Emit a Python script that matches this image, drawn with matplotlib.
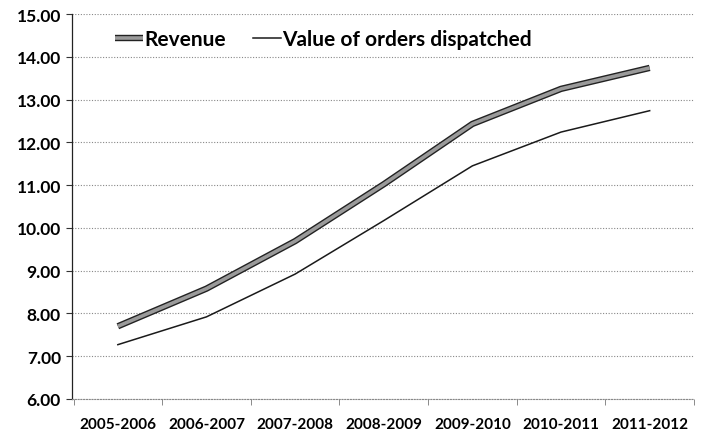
import matplotlib
matplotlib.use("Agg")
import matplotlib.pyplot as plt
import matplotlib.patheffects as pe
import numpy as np

categories = ["2005-2006", "2006-2007", "2007-2008", "2008-2009", "2009-2010", "2010-2011", "2011-2012"]
revenue = [7.70, 8.58, 9.69, 11.02, 12.43, 13.25, 13.74]
orders = [7.27, 7.92, 8.92, 10.17, 11.45, 12.24, 12.74]
yticks = [6, 7, 8, 9, 10, 11, 12, 13, 14, 15]

plt.rcParams['font.family'] = ['Lato', 'DejaVu Sans']
plt.rcParams['font.weight'] = 'bold'

fig = plt.figure(figsize=(7.02, 4.35), dpi=100)
ax = fig.add_axes([0.1026, 0.0805, 0.886, 0.885])

x = np.arange(len(categories))
ax.plot(x, revenue, color='#9a9a9a', lw=2.6, solid_capstyle='butt',
        path_effects=[pe.Stroke(linewidth=4.6, foreground='#222222'), pe.Normal()],
        label='Revenue', zorder=3)
ax.plot(x, orders, color='#1a1a1a', lw=1.1, label='Value of orders dispatched', zorder=3)

ax.set_xlim(-0.517, len(categories) - 1 + 0.47)
ax.set_ylim(6, 15)
ax.set_yticks(yticks)
ax.set_yticklabels([f"{v:.2f}" for v in yticks], fontsize=12.5, fontweight='bold')
ax.set_xticks(x)
ax.set_xticklabels(categories, fontsize=11, fontweight='bold')
ax.set_xticks(np.arange(len(categories) + 1) - 0.5, minor=True)
ax.tick_params(axis='x', which='major', length=0, pad=13)
ax.tick_params(axis='x', which='minor', length=4, color='#777777')
ax.tick_params(axis='y', length=4, color='#333333', pad=4)

ax.grid(axis='y', color='#888888', ls=(0, (1, 1.5)), lw=0.8)
ax.set_axisbelow(True)
for s in ['top', 'right']:
    ax.spines[s].set_visible(False)
ax.spines['bottom'].set_color('#888888')
ax.spines['bottom'].set_linestyle((0, (1, 1.5)))
ax.spines['left'].set_color('#222222')
ax.spines['left'].set_linewidth(0.9)

leg = ax.legend(loc='center left', bbox_to_anchor=(0.164, 0.908), bbox_transform=fig.transFigure,
                ncol=2, frameon=False, borderpad=0, borderaxespad=0,
                handlelength=1.35, handletextpad=0.05, columnspacing=1.3,
                prop={'weight': 'bold', 'size': 15})

fig.savefig("out.png", dpi=100)
